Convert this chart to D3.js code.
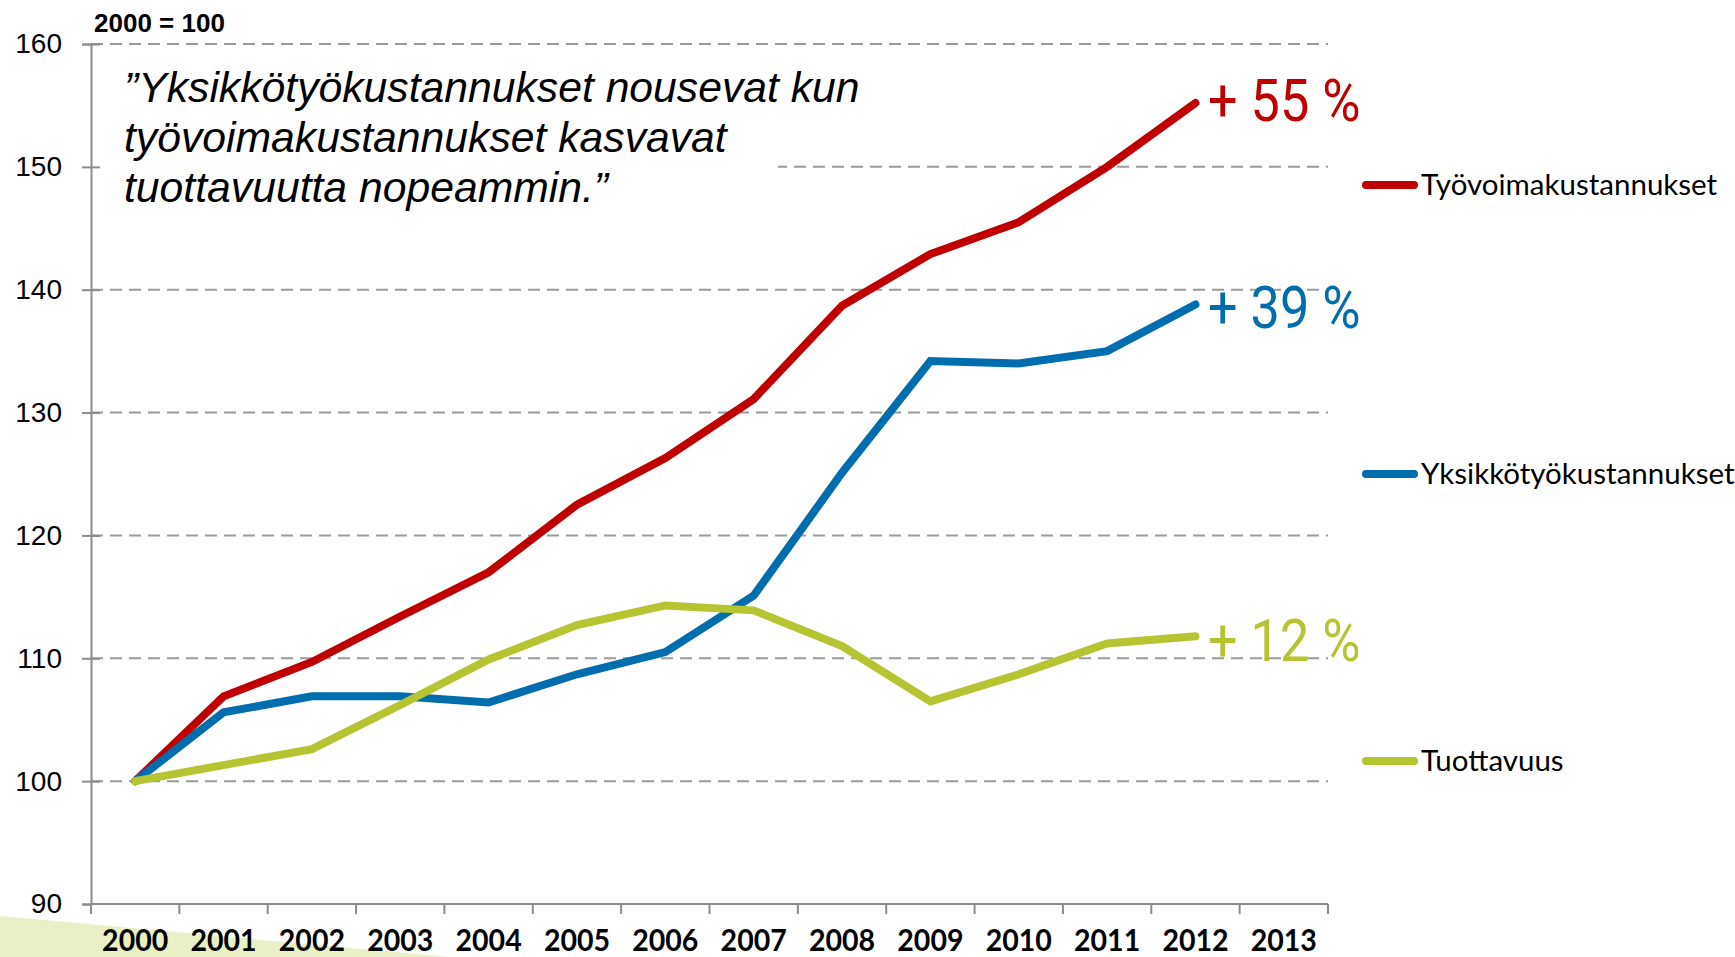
<!DOCTYPE html>
<html>
<head>
<meta charset="utf-8">
<script src="https://d3js.org/d3.v7.min.js"></script>
<style>
    body { margin: 0; background: #fff; }
    svg { display: block; }
</style>
</head>
<body>
<div id="canvas"></div>

<script>
    const width = 1735;
    const height = 957;

    // Data (index, 2000 = 100)
    const years = ["2000", "2001", "2002", "2003", "2004", "2005", "2006",
        "2007", "2008", "2009", "2010", "2011", "2012", "2013"];
    const tyovoima = [100, 106.9, 109.7, 113.4, 117.0, 122.5, 126.3, 131.1, 138.7, 142.9, 145.5, 150.0, 155.2];
    const yksikko = [100, 105.6, 106.9, 106.9, 106.4, 108.7, 110.5, 115.1, 125.1, 134.2, 134.0, 135.0, 138.8];
    const tuottavuus = [100, 101.3, 102.6, 106.2, 109.9, 112.7, 114.3, 113.9, 111.0, 106.5, 108.7, 111.2, 111.8];
    const seriesNames = ["Työvoimakustannukset", "Yksikkötyökustannukset", "Tuottavuus"];
    const changeLabels = ["+ 55 %", "+ 39 %", "+ 12 %"];
    const yTicks = [90, 100, 110, 120, 130, 140, 150, 160];
    const quoteLines = ["”Yksikkötyökustannukset nousevat kun",
        "työvoimakustannukset kasvavat",
        "tuottavuutta nopeammin.”"];

    const colors = ["#c00000", "#006eae", "#b7c431"];
    const seriesValues = [tyovoima, yksikko, tuottavuus];

    const series = seriesNames.map((name, i) => ({
        name,
        color: colors[i],
        label: changeLabels[i],
        values: seriesValues[i].map((v, j) => ({year: years[j], value: v}))
    }));

    const svg = d3.select("#canvas")
        .append("svg")
        .attr("width", width)
        .attr("height", height);

    // pale green wedge in the bottom-left corner (slide decoration)
    svg.append("path")
        .attr("d", "M0,916 L450,957 L0,957 Z")
        .attr("fill", "#e9f0c6");

    const x = d3.scaleBand()
        .domain(years)
        .range([91, 1328]);

    const y = d3.scaleLinear()
        .domain([90, 160])
        .range([904, 44]);

    const cx = d => x(d) + x.bandwidth() / 2;

    // dashed gridlines
    svg.append("g")
        .selectAll("line")
        .data(yTicks.filter(t => t > 90))
        .enter()
        .append("line")
        .attr("x1", 91)
        .attr("x2", 1328)
        .attr("y1", d => y(d))
        .attr("y2", d => y(d))
        .attr("stroke", "#9a9a9a")
        .attr("stroke-width", 2)
        .attr("stroke-dasharray", "12 7");

    // white box behind the quote hides part of the 150 line
    svg.append("rect")
        .attr("x", 92)
        .attr("y", 62)
        .attr("width", 686)
        .attr("height", 152)
        .attr("fill", "#fff");

    // y axis
    const yAxis = svg.append("g")
        .attr("transform", "translate(91,0)")
        .call(d3.axisLeft(y).tickValues(yTicks).tickSize(9).tickPadding(20));
    yAxis.select(".domain").attr("stroke", "#8c8c8c").attr("stroke-width", 2);
    yAxis.selectAll(".tick line").attr("stroke", "#8c8c8c").attr("stroke-width", 2)
        .attr("x1", d => d === 90 ? 0 : 9);
    yAxis.selectAll(".tick text")
        .attr("fill", "#000")
        .style("font-family", "'Liberation Sans', Arial, sans-serif")
        .style("font-size", "28px");

    // x axis, ticks at the category boundaries
    const xAxis = svg.append("g")
        .attr("transform", "translate(0,904)");
    xAxis.append("line")
        .attr("x1", 91)
        .attr("x2", 1328)
        .attr("stroke", "#8c8c8c")
        .attr("stroke-width", 2);
    xAxis.selectAll(".bound")
        .data(years.concat(["end"]))
        .enter()
        .append("line")
        .attr("class", "bound")
        .attr("x1", (d, i) => i < years.length ? x(d) : x.range()[1])
        .attr("x2", (d, i) => i < years.length ? x(d) : x.range()[1])
        .attr("y1", 0)
        .attr("y2", 10)
        .attr("stroke", "#8c8c8c")
        .attr("stroke-width", 2);
    xAxis.selectAll(".year")
        .data(years)
        .enter()
        .append("text")
        .attr("class", "year")
        .attr("transform", d => `translate(${cx(d)},47) scale(0.92,1)`)
        .attr("text-anchor", "middle")
        .style("font-family", "Lato, 'Open Sans', sans-serif")
        .style("font-weight", "bold")
        .style("font-size", "31px")
        .text(d => d);

    // index base label
    svg.append("text")
        .attr("x", 94)
        .attr("y", 32)
        .style("font-family", "'Liberation Sans', Arial, sans-serif")
        .style("font-weight", "bold")
        .style("font-size", "26px")
        .text("2000 = 100");

    // quote
    svg.append("g")
        .selectAll("text")
        .data(quoteLines)
        .enter()
        .append("text")
        .attr("x", 124)
        .attr("y", (d, i) => 102 + i * 50)
        .style("font-family", "'Liberation Sans', Arial, sans-serif")
        .style("font-style", "italic")
        .style("font-size", "42.7px")
        .text(d => d);

    // lines
    const line = d3.line()
        .x(d => cx(d.year))
        .y(d => y(d.value));

    svg.append("g")
        .selectAll("path")
        .data(series)
        .enter()
        .append("path")
        .attr("d", d => line(d.values))
        .attr("fill", "none")
        .attr("stroke", d => d.color)
        .attr("stroke-width", 8)
        .attr("stroke-linecap", "round");

    // change labels at the line ends
    const labelBaseline = [121, 328, 661];
    svg.append("g")
        .selectAll("text")
        .data(series)
        .enter()
        .append("text")
        .attr("transform", (d, i) => `translate(1208,${labelBaseline[i]}) scale(0.87,1)`)
        .attr("fill", d => d.color)
        .style("font-family", "Roboto, sans-serif")
        .style("font-size", "60px")
        .text(d => d.label);

    // legend
    const legendY = [185, 474, 761];
    const legend = svg.append("g")
        .selectAll("g")
        .data(series)
        .enter()
        .append("g")
        .attr("transform", (d, i) => `translate(1362,${legendY[i]})`);
    legend.append("line")
        .attr("x1", 4)
        .attr("x2", 52)
        .attr("stroke", d => d.color)
        .attr("stroke-width", 8)
        .attr("stroke-linecap", "round");
    legend.append("text")
        .attr("x", 59)
        .attr("y", 10)
        .style("font-family", "Lato, 'Open Sans', sans-serif")
        .style("font-size", "29.5px")
        .text(d => d.name);
</script>
</body>
</html>
